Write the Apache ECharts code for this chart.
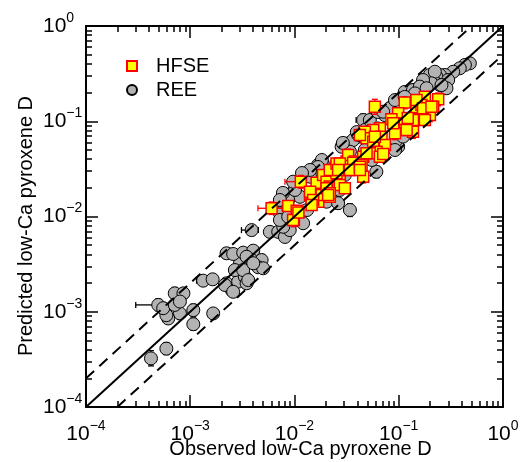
<!DOCTYPE html>
<html><head><meta charset="utf-8">
<script src="https://cdn.jsdelivr.net/npm/echarts@6/dist/echarts.min.js"></script>
<style>html,body{margin:0;padding:0;background:#fff}#c{width:522px;height:462px}</style>
</head><body><div id="c"></div>
<script>
const FONT = '"Liberation Sans", Arial, Helvetica, sans-serif';
const xTitle = 'Observed low-Ca pyroxene D';
const yTitle = 'Predicted low-Ca pyroxene D';
const axisMin = 1e-4, axisMax = 1;

// REE (grey circles): [observed, predicted]
const reePoints = [
 [4.2e-4,3.24e-4],[5.9e-4,4.1e-4],[1.07e-3,7.4e-4],[1.66e-3,9.6e-4],[1.07e-3,1.04e-3],
 [7.96e-4,9.6e-4],[6.15e-4,8.5e-4],[5.9e-4,9.2e-4],[4.93e-4,1.18e-3],[5.5e-4,1.09e-3],
 [7.1e-4,1.18e-3],[7.1e-4,1.56e-3],[8.6e-4,1.56e-3],[7.96e-4,1.28e-3],[1.33e-3,2.12e-3],
 [1.64e-3,2.19e-3],[2.23e-3,1.99e-3],[2.5e-3,1.69e-3],[2.88e-3,2.07e-3],[3.34e-3,2.33e-3],
 [3.0e-3,3.23e-3],[2.23e-3,4.11e-3],[2.58e-3,4.04e-3],[3.22e-3,4.17e-3],[4.02e-3,4.38e-3],
 [3.88e-3,3.49e-3],[4.84e-3,3.49e-3],[4.49e-3,2.93e-3],[5.0e-3,2.86e-3],[2.68e-3,2.74e-3],
 [3.22e-3,2.74e-3],[3.47e-3,1.99e-3],[2.15e-3,1.91e-3],[2.58e-3,1.62e-3],[3.47e-3,3.78e-3],
 [4.02e-3,3.23e-3],[3.6e-3,2.15e-3],
 [3.88e-3,7.2e-3],[5.8e-3,6.9e-3],[6.98e-3,6.9e-3],[8.1e-3,6.1e-3],[9.0e-3,7.2e-3],
 [7.8e-3,7.8e-3],[1.05e-2,9.2e-3],[9.4e-3,1.75e-2],[1.13e-2,1.61e-2],[1.21e-2,8.5e-3],
 [8.7e-3,1.49e-2],[7.24e-3,1.08e-2],[7.24e-3,9.2e-3],[8.7e-3,9.95e-3],[1.01e-2,1.9e-2],
 [1.41e-2,2.62e-2],[9.7e-3,2.32e-2],[1.88e-2,3.47e-2],[2.03e-2,1.43e-2],[2.62e-2,1.38e-2],
 [3.4e-2,1.17e-2],[6.1e-2,2.95e-2],[3.27e-2,5.86e-2],[2.83e-2,5.4e-2],[5.09e-2,5.86e-2],
 [4.24e-2,6.9e-2],[4.56e-2,0.103],[6.35e-2,8.4e-2],[7.36e-2,0.116],[8.2e-2,0.137],
 [9.87e-2,5.4e-2],[9.5e-2,6.35e-2],[0.11,6.9e-2],[9.2e-2,4.99e-2],[3.65e-2,6.35e-2],
 [4.08e-2,7.2e-2],[3.4e-2,4.79e-2],[1.68e-2,3.47e-2],[1.57e-2,1.49e-2],[2.33e-2,2.42e-2],
 [3.04e-2,2.73e-2],[2.72e-2,1.9e-2],[4.73e-2,4.99e-2],[5.52e-2,3.92e-2],[1.32e-2,1.17e-2],
 [1.83e-2,3.92e-2],[1.68e-2,3.31e-2],[1.41e-2,3.08e-2],[1.18e-2,2.86e-2],[7.74e-3,1.77e-2],
 [7.24e-3,1.49e-2],[2.91e-2,5.92e-2],[3.96e-2,7.7e-2],[4.73e-2,8.1e-2],[5.28e-2,0.103],
 [6.3e-2,0.125],[9.2e-2,0.167],[0.114,0.203],
 [0.481,0.406],[0.431,0.39],[0.385,0.36],[0.333,0.331],[0.277,0.306],[0.248,0.306],
 [0.23,0.294],[0.298,0.271],[0.287,0.222],[0.248,0.24],[0.214,0.271],[0.199,0.306],
 [0.222,0.331],[0.206,0.25],[0.171,0.271],[0.137,0.213],[0.159,0.231],[0.185,0.222],
 [0.143,0.196],[0.257,0.24],[0.114,0.18],[7.08e-2,0.126]
];

// HFSE (yellow squares): [observed, predicted]
const hfsePoints = [
 [6.03e-3,1.22e-2],[8.7e-3,1.29e-2],[1.05e-2,1.15e-2],[9.87e-3,9.2e-3],[1.15e-2,2.32e-2],
 [1.41e-2,1.68e-2],[1.46e-2,1.49e-2],[1.57e-2,1.82e-2],[1.63e-2,2.26e-2],[1.88e-2,2.73e-2],
 [2.03e-2,2.32e-2],[2.18e-2,2.06e-2],[1.69e-2,1.43e-2],[1.82e-2,1.68e-2],[2.18e-2,1.61e-2],
 [2.62e-2,2.23e-2],[2.72e-2,2.62e-2],[2.53e-2,2.84e-2],[2.18e-2,3.08e-2],[2.53e-2,3.61e-2],
 [3.16e-2,3.77e-2],[3.27e-2,4.43e-2],[3.79e-2,3.77e-2],[3.27e-2,3.08e-2],[5.9e-2,0.142],
 [0.114,0.157],[0.148,0.14],[0.178,0.126],[9.87e-2,0.121],[8.5e-2,0.105],
 [9.5e-2,9.14e-2],[0.143,0.105],[0.114,9.5e-2],[0.114,8.1e-2],[0.137,7.76e-2],
 [9.2e-2,7.46e-2],[6.59e-2,8.43e-2],[5.69e-2,8.1e-2],[4.73e-2,7.76e-2],[4.91e-2,6.62e-2],
 [5.69e-2,6.1e-2],[6.84e-2,6.89e-2],[7.36e-2,5.64e-2],[6.12e-2,4.79e-2],[5.28e-2,4.6e-2],
 [4.56e-2,4.25e-2],[6.59e-2,4.25e-2],[3.65e-2,3.67e-2],[4.4e-2,3.47e-2],[0.239,0.17],
 [0.178,0.181],[0.165,0.148],[0.148,0.167],[0.214,0.142],[0.199,0.116],
 [0.178,0.103],[0.137,0.103],[0.119,8.1e-2],[0.171,0.137],[8.85e-2,9.5e-2],
 [4.24e-2,7.18e-2],[5.9e-2,6.89e-2],[7.1e-2,4.53e-2],[2.72e-2,3.61e-2],[2.62e-2,3.08e-2],
 [1.41e-2,1.82e-2],[1.51e-2,1.49e-2],[2.03e-2,1.98e-2],[2.72e-2,2.14e-2],[3.4e-2,3.08e-2],
 [4.24e-2,3.33e-2],[4.56e-2,2.62e-2],[2.18e-2,1.75e-2],[9.7e-3,9.2e-3],[4.91e-2,4.6e-2],
 [0.206,0.142],[0.122,0.108],[4.24e-2,3.08e-2],[1.46e-2,1.32e-2],[1.09e-2,1.1e-2],
 [2.1e-2,1.68e-2],[3.04e-2,1.98e-2]
];

// vertical error bars: [observed, predLow, predHigh]
const reeYErr = [
 [4.2e-4,2.7e-4,3.9e-4],[5.9e-4,3.55e-4,4.75e-4],[1.07e-3,6.4e-4,8.6e-4],[1.66e-3,8.5e-4,1.08e-3],
 [7.96e-4,8.3e-4,1.1e-3],[7.1e-4,1.35e-3,1.8e-3],[4.93e-4,1.02e-3,1.36e-3],[1.07e-3,9.0e-4,1.2e-3],
 [3.0e-3,2.8e-3,3.7e-3],[4.84e-3,3.0e-3,4.0e-3],[9.4e-3,1.5e-2,2.05e-2],[3.4e-2,1.0e-2,1.36e-2],
 [4.56e-2,0.089,0.119],[8.2e-2,0.118,0.158],[0.481,0.36,0.46],[0.298,0.235,0.31],
 [0.137,0.185,0.245],[6.1e-2,2.55e-2,3.4e-2],[2.62e-2,1.2e-2,1.6e-2]
];
// horizontal error bars: [predicted, obsLow, obsHigh]
const reeXErr = [
 [1.18e-3,3.0e-4,5.8e-4],[2.12e-3,1.15e-3,1.5e-3],[7.2e-3,3.1e-3,4.5e-3],[1.75e-2,7.2e-3,1.1e-2],
 [1.9e-2,8.4e-3,1.15e-2],[4.11e-3,2.0e-3,2.4e-3],[0.103,3.9e-2,5.2e-2],[0.406,0.42,0.54]
];
const hfseYErr = [
 [5.9e-2,0.118,0.17],[0.239,0.145,0.198],[6.03e-3,1.05e-2,1.42e-2],[1.15e-2,1.98e-2,2.7e-2],
 [1.57e-2,1.55e-2,2.12e-2],[2.18e-2,1.75e-2,2.4e-2],[0.114,0.135,0.18],[0.178,0.108,0.146],
 [0.148,0.12,0.162],[0.199,9.9e-2,0.135],[9.87e-3,7.8e-3,1.08e-2],[4.56e-2,2.25e-2,3.05e-2],
 [3.27e-2,3.8e-2,5.1e-2],[6.12e-2,4.1e-2,5.6e-2],[0.137,6.6e-2,9.1e-2],[9.2e-2,6.4e-2,8.7e-2],
 [2.72e-2,2.25e-2,3.05e-2],[1.41e-2,1.44e-2,1.96e-2],[7.1e-2,3.9e-2,5.3e-2]
];
const hfseXErr = [
 [1.22e-2,4.46e-3,7.6e-3],[2.32e-2,8.1e-3,1.3e-2],[3.61e-2,2.2e-2,2.9e-2],[0.142,5.3e-2,6.6e-2]
];

// reference lines: 1:1 and factor-of-two
const oneToOne = [[1e-4,1e-4],[1,1]];
const upperFactor2 = [[1e-4,2e-4],[0.5,1]];
const lowerFactor2 = [[2e-4,1e-4],[1,0.5]];

function expLabel(v) {
  const e = Math.round(Math.log10(v));
  return '{b|10}{s|' + (e < 0 ? '\u2212' + (-e) : String(e)) + '}';
}
const rich = {
  b: {fontSize: 21, lineHeight: 30, fontFamily: FONT, color: '#000'},
  s: {fontSize: 14, lineHeight: 14, verticalAlign: 'top', fontFamily: FONT, color: '#000'}
};
const lineSt = {color: '#000', width: 1.5};

function makeAxis(isX, pos, labels) {
  const ax = {
    type: 'log', logBase: 10, min: axisMin, max: axisMax, position: pos,
    axisLine: {show: true, onZero: false, lineStyle: {color: '#000', width: 2}},
    axisTick: {show: true, inside: true, length: 12, lineStyle: lineSt},
    minorTick: {show: true, splitNumber: 9, length: 6, lineStyle: lineSt},
    splitLine: {show: false}, minorSplitLine: {show: false},
    axisLabel: {show: false}
  };
  if (labels) {
    ax.axisLabel = isX
      ? {show: true, formatter: expLabel, rich: rich, margin: 12}
      : {show: true, formatter: expLabel, rich: rich, margin: 43, align: 'left'};
    ax.nameLocation = 'middle';
    ax.nameMoveOverlap = false;
    if (isX) {
      ax.name = xTitle; ax.nameGap = 32;
      ax.nameTextStyle = {fontSize: 20, fontFamily: FONT, color: '#000', padding: [0, 0, 0, 12]};
    } else {
      ax.name = yTitle; ax.nameGap = 50;
      ax.nameTextStyle = {fontSize: 20, fontFamily: FONT, color: '#000', padding: [0, 19, 0, 0]};
    }
  }
  return ax;
}

function vErr(name, data, color, z) {
  return {
    type: 'custom', name: name, z: z, silent: true, data: data,
    encode: {x: 0, y: [1, 2]},
    renderItem: function (params, api) {
      const x = api.value(0);
      const p1 = api.coord([x, api.value(1)]);
      const p2 = api.coord([x, api.value(2)]);
      const c = 3, st = {stroke: color, lineWidth: 1.3};
      return {type: 'group', children: [
        {type: 'line', shape: {x1: p1[0], y1: p1[1], x2: p2[0], y2: p2[1]}, style: st},
        {type: 'line', shape: {x1: p1[0] - c, y1: p1[1], x2: p1[0] + c, y2: p1[1]}, style: st},
        {type: 'line', shape: {x1: p2[0] - c, y1: p2[1], x2: p2[0] + c, y2: p2[1]}, style: st}
      ]};
    }
  };
}
function hErr(name, data, color, z) {
  return {
    type: 'custom', name: name, z: z, silent: true, data: data,
    encode: {y: 0, x: [1, 2]},
    renderItem: function (params, api) {
      const y = api.value(0);
      const p1 = api.coord([api.value(1), y]);
      const p2 = api.coord([api.value(2), y]);
      const c = 3, st = {stroke: color, lineWidth: 1.3};
      return {type: 'group', children: [
        {type: 'line', shape: {x1: p1[0], y1: p1[1], x2: p2[0], y2: p2[1]}, style: st},
        {type: 'line', shape: {x1: p1[0], y1: p1[1] - c, x2: p1[0], y2: p1[1] + c}, style: st},
        {type: 'line', shape: {x1: p2[0], y1: p2[1] - c, x2: p2[0], y2: p2[1] + c}, style: st}
      ]};
    }
  };
}
function refLine(name, data, dashed) {
  return {
    type: 'line', name: name, data: data, symbol: 'none', z: 8, silent: true,
    lineStyle: {color: '#000', width: 2, type: dashed ? [11, 7] : 'solid'}
  };
}

const chart = echarts.init(document.getElementById('c'), null, {renderer: 'canvas'});
chart.setOption({
  animation: false,
  backgroundColor: '#fff',
  textStyle: {fontFamily: FONT},
  grid: {left: 86, right: 19, top: 26, bottom: 55, containLabel: false, outerBoundsMode: 'none'},
  xAxis: [makeAxis(true, 'bottom', true), makeAxis(true, 'top', false)],
  yAxis: [makeAxis(false, 'left', true), makeAxis(false, 'right', false)],
  legend: {
    data: [{name: 'HFSE', icon: 'rect'}, {name: 'REE', icon: 'circle'}],
    orient: 'vertical', left: 126, top: 56, padding: 0, itemGap: 4,
    itemWidth: 10, itemHeight: 10, selectedMode: false,
    textStyle: {fontSize: 20, fontFamily: FONT, color: '#000', padding: [0, 0, 0, 14]}
  },
  series: [
    vErr('reeYErr', reeYErr, '#000', 2),
    hErr('reeXErr', reeXErr, '#000', 2),
    {name: 'REE', type: 'scatter', data: reePoints, symbol: 'circle', symbolSize: 13, z: 3,
     itemStyle: {color: '#b3b3b3', borderColor: '#000', borderWidth: 1, opacity: 1},
     emphasis: {disabled: true}},
    vErr('hfseYErr', hfseYErr, '#ff0000', 4),
    hErr('hfseXErr', hfseXErr, '#ff0000', 4),
    {name: 'HFSE', type: 'scatter', data: hfsePoints, symbol: 'rect', symbolSize: 11, z: 5,
     itemStyle: {color: '#ffff00', borderColor: '#ff0000', borderWidth: 1.5, opacity: 1},
     emphasis: {disabled: true}},
    refLine('1:1', oneToOne, false),
    refLine('x2', upperFactor2, true),
    refLine('x0.5', lowerFactor2, true)
  ]
});
</script>
</body></html>
